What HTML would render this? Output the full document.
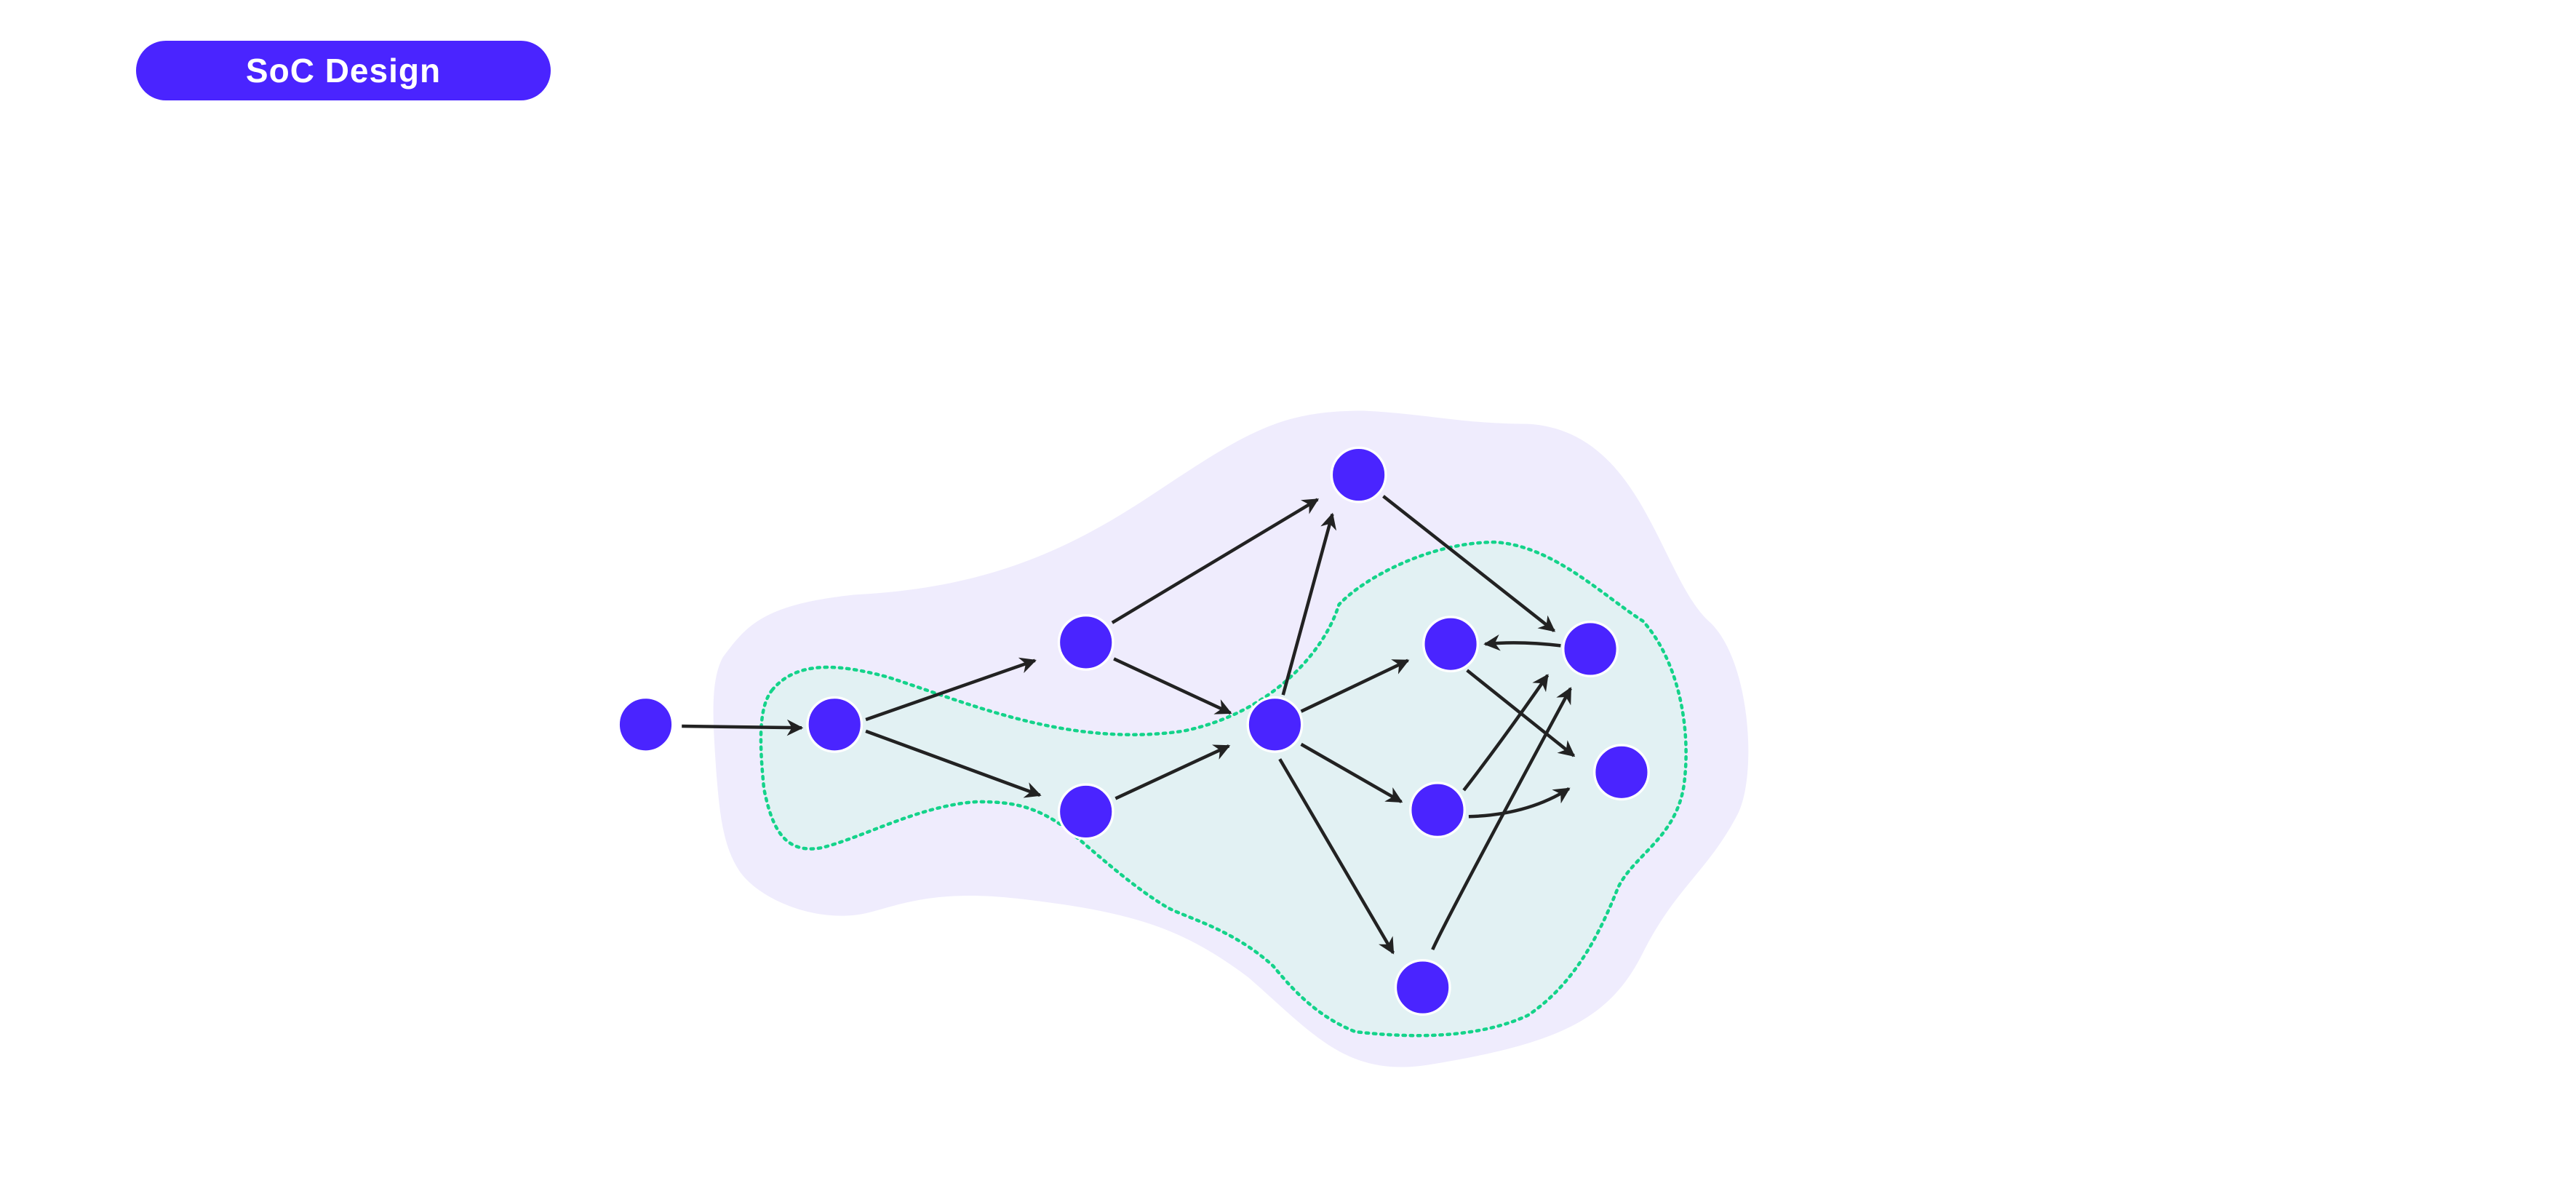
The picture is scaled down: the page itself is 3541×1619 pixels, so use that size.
<!DOCTYPE html>
<html><head><meta charset="utf-8"><style>
html,body{margin:0;padding:0;background:#fff;}
body{width:3541px;height:1619px;position:relative;overflow:hidden;font-family:"Liberation Sans",sans-serif;}
.pill{position:absolute;left:187px;top:56px;width:570px;height:82px;border-radius:41px;background:#4a24ff;color:#fff;font-weight:bold;font-size:46px;display:flex;align-items:center;justify-content:center;letter-spacing:1px;}
svg{position:absolute;left:0;top:0;}
</style></head><body>
<div class="pill">SoC Design</div>
<svg width="3541" height="1619" viewBox="0 0 1568 717" preserveAspectRatio="none">
<defs><marker id="a" viewBox="0 0 10 10" refX="9" refY="5" markerWidth="5" markerHeight="5" orient="auto"><path d="M0,0 L10,5 L0,10 L3,5 z" fill="#222"/></marker></defs>
<path d="M440,400 C455,380 465,368 520,362 C600,358 650,335 700,302 C760,262 780,250 830,250 C870,252 890,258 930,258 C1000,262 1010,350 1040,378 C1065,400 1070,470 1058,495 C1040,530 1020,540 1000,580 C980,620 950,635 870,648 C820,656 800,630 760,595 C720,565 690,555 620,547 C560,540 540,555 520,557 C490,560 460,545 450,530 C440,515 438,495 436,470 C434,440 432,415 440,400 Z" fill="#efecfd"/>
<path d="M470,420 C485,402 510,404 540,412 C590,428 650,455 720,445 C770,435 805,400 815,368 C830,352 870,330 910,330 C945,332 975,362 1000,378 C1020,400 1030,440 1025,478 C1020,510 995,520 985,540 C975,565 960,598 930,618 C900,632 860,632 825,628 C800,618 785,600 775,588 C750,565 720,558 710,552 C690,540 670,522 650,505 C630,490 615,488 595,488 C560,490 525,510 500,516 C478,520 470,505 465,480 C462,450 462,430 470,420 Z" fill="#e2f1f3" stroke="#14d38a" stroke-width="2" stroke-dasharray="1.5 3" stroke-linecap="round"/>
<g stroke="#222" stroke-width="2" fill="none" marker-end="url(#a)">
<line x1="415" y1="442" x2="488" y2="443"/>
<line x1="527" y1="438" x2="630" y2="402"/>
<line x1="527" y1="445" x2="633" y2="484"/>
<line x1="677" y1="379" x2="802" y2="304"/>
<line x1="678" y1="401" x2="749" y2="434"/>
<line x1="679" y1="486" x2="748" y2="454"/>
<line x1="781" y1="423" x2="811" y2="313"/>
<line x1="842" y1="302" x2="946" y2="384"/>
<line x1="792" y1="433" x2="857" y2="402"/>
<line x1="792" y1="453" x2="853" y2="488"/>
<line x1="779" y1="462" x2="848" y2="580"/>
<path d="M950,393 Q925,390 904,392"/>
<line x1="893" y1="408" x2="958" y2="460"/>
<path d="M891,481 Q915,450 942,411"/>
<path d="M894,497 Q930,496 955,480"/>
<path d="M872,578 Q880,560 956,419"/>
</g>
<g fill="#4a24ff" stroke="#fff" stroke-width="1.5">
<circle cx="393" cy="441" r="16.5"/>
<circle cx="508" cy="441" r="16.5"/>
<circle cx="661" cy="391" r="16.5"/>
<circle cx="661" cy="494" r="16.5"/>
<circle cx="776" cy="441" r="16.5"/>
<circle cx="827" cy="289" r="16.5"/>
<circle cx="883" cy="392" r="16.5"/>
<circle cx="968" cy="395" r="16.5"/>
<circle cx="987" cy="470" r="16.5"/>
<circle cx="875" cy="493" r="16.5"/>
<circle cx="866" cy="601" r="16.5"/>
</g>
</svg>
</body></html>
